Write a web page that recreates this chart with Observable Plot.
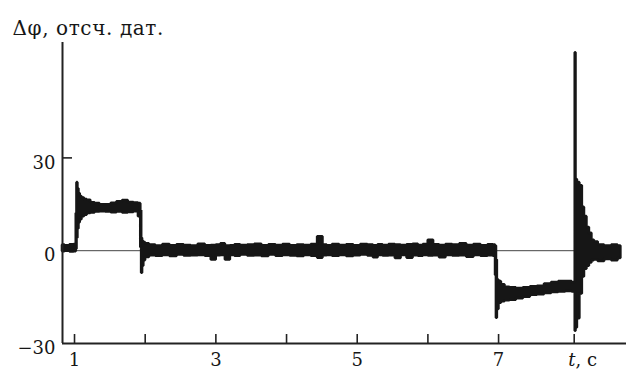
<!DOCTYPE html>
<html>
<head>
<meta charset="utf-8">
<script src="https://cdn.jsdelivr.net/npm/d3@7"></script>
<script src="https://cdn.jsdelivr.net/npm/@observablehq/plot@0.6"></script>
<style>
  html, body { margin: 0; padding: 0; background: #fff; }
</style>
</head>
<body>
<div id="chart"></div>
<script>
// ---- data ----
const titleText = "Δφ, отсч. дат.";
const xAxisLabel = "t, c";

// sample times (s)
const tValues = [
  0.83, 0.90, 0.97, 1.02, 1.03, 1.04, 1.055, 1.07, 1.09, 1.12, 1.16, 1.20, 1.26, 1.32, 1.40, 1.48, 1.56, 1.64, 1.72, 1.80, 1.88, 1.93,
  1.945, 1.955, 1.97, 1.99, 2.02,
  2.10, 2.20, 2.30, 2.40, 2.50, 2.60, 2.70, 2.80, 2.90, 2.97, 3.04, 3.10, 3.17, 3.24, 3.30, 3.40, 3.50, 3.60, 3.70, 3.80, 3.90,
  4.00, 4.10, 4.20, 4.30, 4.40, 4.48, 4.55, 4.60, 4.70, 4.80, 4.90, 5.00, 5.10, 5.20, 5.26, 5.33, 5.40, 5.50, 5.58, 5.66, 5.75,
  5.83, 5.90, 5.97, 6.04, 6.12, 6.21, 6.30, 6.40, 6.50, 6.60, 6.70, 6.80, 6.90, 6.95,
  6.965, 6.975, 6.99, 7.02, 7.06, 7.12, 7.20, 7.30, 7.40, 7.50, 7.60, 7.70, 7.80, 7.90, 8.00, 8.08,
  8.09, 8.10, 8.13, 8.17, 8.20, 8.23, 8.27, 8.30, 8.34, 8.37, 8.45, 8.55, 8.65, 8.73
];
// lower edge of the noisy trace (sensor counts)
const loValues = [
  -0.3, -0.2, -0.4, -0.3, 0.5, 4, 7, 9, 10, 11, 11.5, 12, 12.2, 12.5, 12.6, 12.5, 12.3, 12.5, 12.2, 12.4, 12.6, 11,
  1, -7.3, -5, -3.2, -2.2,
  -1.6, -1.8, -1.5, -1.9, -1.4, -1.7, -1.6, -1.5, -1.8, -3.0, -1.6, -1.5, -3.0, -1.5, -1.8, -1.4, -1.7, -1.6, -1.9, -1.4, -1.8,
  -1.5, -1.7, -1.9, -1.5, -1.8, -2.4, -1.6, -1.5, -1.8, -1.5, -1.9, -1.6, -1.4, -1.7, -2.3, -1.5, -1.7, -1.6, -2.5, -1.5, -2.4,
  -1.6, -1.8, -1.5, -1.7, -1.6, -2.3, -1.5, -1.7, -1.6, -2.1, -1.5, -1.8, -1.6, -1.8,
  -8, -21.8, -19, -17, -16.5, -16.2, -16, -15.5, -15, -14.4, -14.2, -13.8, -13.5, -13.3, -13.2, -13.3,
  -26, -25, -22, -14, -8.5, -6, -5, -4, -3.2, -3, -3.5, -2.8, -3.2, -2.5
];
// upper edge of the noisy trace (sensor counts)
const hiValues = [
  1.8, 1.6, 1.9, 2.0, 12, 22, 20, 18.5, 17.5, 17, 16.5, 16.3, 15.5, 15.2, 14.8, 14.8, 15.3, 15.8, 16.2, 15.6, 15.4, 15.2,
  13, 4, 3, 2.6, 2.2,
  1.8, 1.5, 2.0, 1.6, 1.9, 1.7, 1.5, 2.1, 1.6, 1.7, 1.8, 2.2, 1.5, 1.6, 1.9, 1.7, 1.8, 2.1, 1.6, 1.9, 1.7,
  2.0, 1.6, 1.8, 1.7, 2.0, 4.5, 1.8, 1.6, 2.0, 1.7, 1.9, 1.6, 2.0, 1.8, 1.6, 1.9, 1.7, 2.0, 1.8, 1.7, 1.9,
  2.1, 1.7, 2.0, 3.4, 1.9, 1.7, 2.0, 1.8, 2.2, 1.7, 2.0, 1.6, 1.9, 1.8,
  1.5, -3, -9.5, -10, -11, -11.8, -12, -12.2, -12, -11.7, -11.5, -10.8, -10.3, -10, -10, -10.3,
  64, 23, 22, 21, 14, 11, 7.5, 5.6, 3.4, 2.8, 1.8, 1.5, 1.8, 1.5
];

const yTickValues = [30, 0, -30];
const yTickLabels = ["30", "0", "−30"];
const yTickMarks = [30];
const xTickValues = [1, 2, 3, 4, 5, 6, 7, 8.07];
const xLabelValues = [1, 3, 5, 7];
const xLabelTexts = ["1", "3", "5", "7"];
const xDomain = [0.83, 8.81];
const yDomain = [-30, 67.3];
const zeroLineEnd = 8.09;

// ---- build ----
const W = 626, H = 369;
const mL = 62, mR = 0, mT = 42, mB = 26;
const pxPerX = (W - mL - mR) / (xDomain[1] - xDomain[0]);
const pxPerY = (H - mT - mB) / (yDomain[1] - yDomain[0]);

const trace = tValues.map((t, i) => ({t, lo: loValues[i], hi: hiValues[i]}));
const ink = "#161616";

const chart = Plot.plot({
  width: W,
  height: H,
  marginLeft: mL,
  marginRight: mR,
  marginTop: mT,
  marginBottom: mB,
  x: {domain: xDomain, axis: null},
  y: {domain: yDomain, axis: null},
  style: {fontFamily: "'DejaVu Serif', serif", fontSize: "18px", background: "#fff", color: ink, overflow: "visible"},
  marks: [
    // zero reference line
    Plot.ruleY([0], {x1: xDomain[0], x2: zeroLineEnd, stroke: "#444", strokeWidth: 1}),
    // noisy trace as band
    Plot.areaY(trace, {x: "t", y1: "lo", y2: "hi", curve: "step", fill: ink, stroke: ink, strokeWidth: 2.6, strokeLinejoin: "miter"}),
    // axes lines
    Plot.ruleX([xDomain[0]], {y1: yDomain[0], y2: yDomain[1], stroke: "#222", strokeWidth: 2}),
    Plot.ruleY([yDomain[0]], {x1: xDomain[0], x2: xDomain[1], stroke: "#222", strokeWidth: 2}),
    // inward ticks
    Plot.ruleX(xTickValues, {y1: yDomain[0], y2: yDomain[0] + 9 / pxPerY, stroke: "#222", strokeWidth: 1.6}),
    Plot.ruleY(yTickMarks, {x1: xDomain[0], x2: xDomain[0] + 10 / pxPerX, stroke: "#222", strokeWidth: 1.6}),
    // y tick labels
    Plot.text(yTickValues, {x: xDomain[0], y: d => d, text: (d, i) => yTickLabels[i], textAnchor: "end", dx: -7, dy: 5, fill: ink}),
    // x tick labels
    Plot.text(xLabelValues, {x: d => d, y: yDomain[0], text: (d, i) => xLabelTexts[i], dy: 17, fill: ink}),
    Plot.text([xTickValues[xTickValues.length - 1]], {x: d => d, y: yDomain[0], text: () => xAxisLabel, textAnchor: "start", dx: -6, dy: 17, fill: ink}),
    // title
    Plot.text([titleText], {frameAnchor: "top-left", text: d => d, textAnchor: "start", dx: 12 - mL, dy: 20 - mT, fill: ink, fontSize: 20})
  ]
});

d3.select(chart).selectAll("text")
  .filter(function() { return this.textContent === xAxisLabel; })
  .html('<tspan font-style="italic">t</tspan>, c');
d3.select(chart).selectAll("text")
  .filter(function() { return this.textContent === titleText; })
  .attr("letter-spacing", "0.6px");

document.getElementById("chart").appendChild(chart);
</script>
</body>
</html>
